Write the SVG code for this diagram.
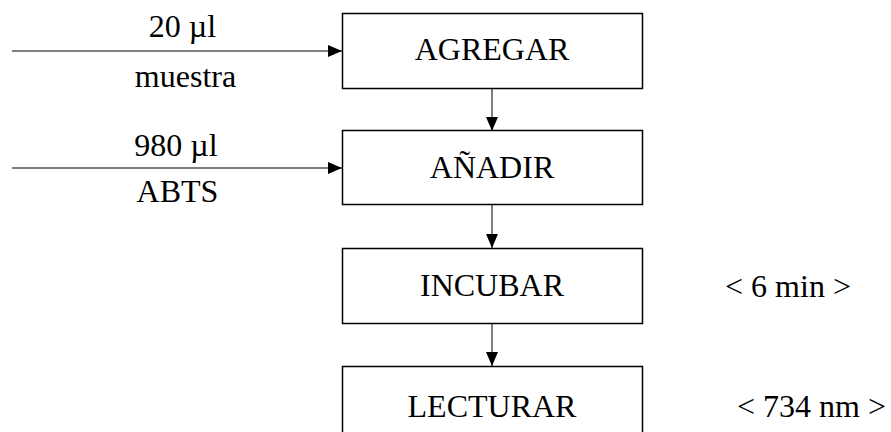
<svg xmlns="http://www.w3.org/2000/svg" width="891" height="432" viewBox="0 0 891 432">
<style>
.box{fill:#fff;stroke:#000;stroke-width:1.5}
.t{font-family:"Liberation Serif","Times New Roman",serif;font-size:32px;fill:#000;text-anchor:middle}
.c{stroke:#000;stroke-width:1;fill:none;marker-end:url(#ah)}
</style>
<defs>
<marker id="ah" markerWidth="14" markerHeight="12" refX="14" refY="6" orient="auto" markerUnits="userSpaceOnUse">
<path d="M0,0 L14,6 L0,12 Z" fill="#000"/>
</marker>
</defs>
<g id="connectors">
<path class="c" d="M12,51 H342"/>
<path class="c" d="M12,168 H342"/>
<path class="c" d="M492,88 V131"/>
<path class="c" d="M492,204 V248"/>
<path class="c" d="M492,323 V366"/>
</g>
<g id="agregar"><rect class="box" x="342.5" y="13.5" width="300" height="75"/><text class="t" x="492" y="60">AGREGAR</text></g>
<g id="anadir"><rect class="box" x="342.5" y="130.5" width="300" height="74"/><text class="t" x="492" y="178">AÑADIR</text></g>
<g id="incubar"><rect class="box" x="342.5" y="248.5" width="300" height="75"/><text class="t" x="492" y="296">INCUBAR</text></g>
<g id="lecturar"><rect class="box" x="342.5" y="366.5" width="300" height="75"/><text class="t" x="492" y="417">LECTURAR</text></g>
<g id="labels">
<text class="t" x="182.5" y="37">20 µl</text>
<text class="t" x="185.5" y="87">muestra</text>
<text class="t" x="176" y="156">980 µl</text>
<text class="t" x="177.5" y="202">ABTS</text>
<text class="t" x="788" y="297">&lt; 6 min &gt;</text>
<text class="t" x="811.5" y="417">&lt; 734 nm &gt;</text>
</g>
</svg>
